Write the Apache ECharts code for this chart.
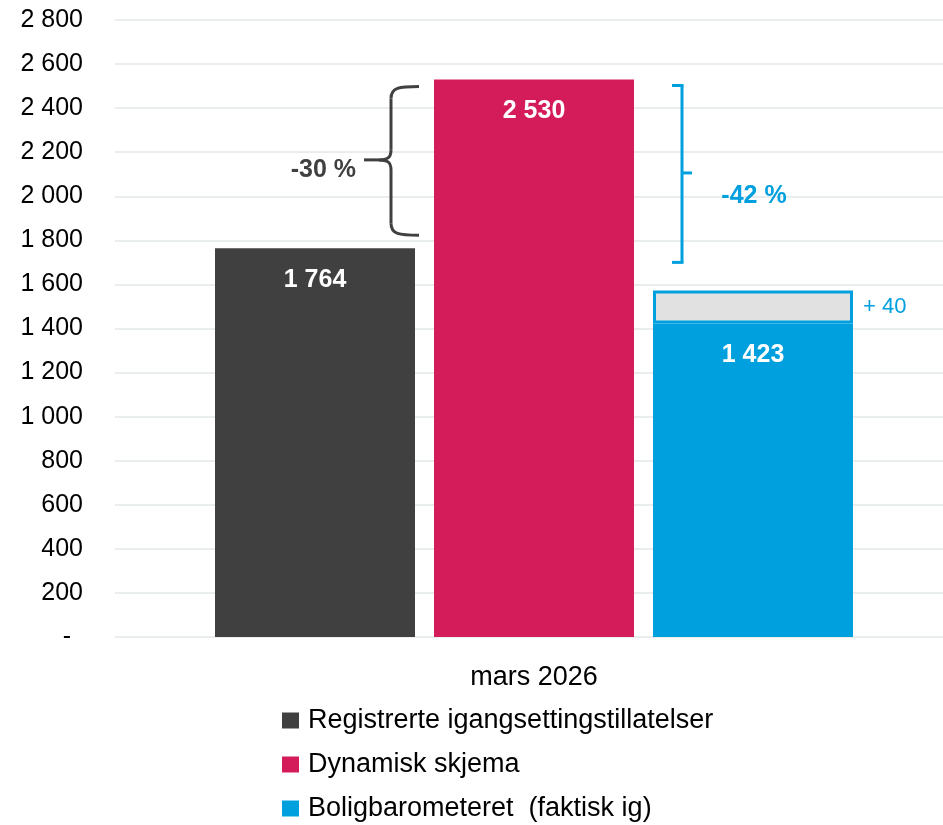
<!DOCTYPE html>
<html>
<head>
<meta charset="utf-8">
<script src="https://cdn.jsdelivr.net/npm/echarts@6/dist/echarts.min.js"></script>
<style>
html,body{margin:0;padding:0;background:#fff;}
#chart{width:943px;height:825px;}
</style>
</head>
<body>
<div id="chart"></div>
<script>
// ---- data ----
const categories = ['mars 2026'];
const seriesNames = ['Registrerte igangsettingstillatelser', 'Dynamisk skjema', 'Boligbarometeret  (faktisk ig)'];
const registrerte = [1764];
const dynamisk = [2530];
const boligbarometeret = [1423];
const tillegg = [150];          // grey top-up block as drawn
const tilleggLabel = ['+ 40'];
const pctLabels = ['-30 %', '-42 %'];
const yTicks = { min: 0, max: 2800, interval: 200 };

const FONT = '"Liberation Sans", Arial, sans-serif';
const C_DARK = '#404040', C_PINK = '#D51C5B', C_BLUE = '#00A0DF', C_GREY = '#E1E1E1';

function fmtNum(v) {
  return String(v).replace(/\B(?=(\d{3})+(?!\d))/g, ' ');
}
function fmtAxis(v) {
  if (v === 0) return '{d|-}';
  return fmtNum(v);
}

const chart = echarts.init(document.getElementById('chart'));
const barLabel = {
  show: true, position: 'insideTop', distance: 19,
  color: '#fff', fontWeight: 'bold', fontSize: 25, fontFamily: FONT,
  formatter: p => fmtNum(p.value)
};
const legendTops = [707, 751, 795];
chart.setOption({
  animation: false,
  grid: [
    { left: 115, right: 0, top: 20, bottom: 188 },
    { left: 125, right: 0, top: 20, bottom: 188 }
  ],
  legend: seriesNames.map((n, i) => ({
    orient: 'vertical', left: 282, top: legendTops[i], padding: 0,
    itemWidth: 17, itemHeight: 16, icon: 'rect',
    textStyle: { fontSize: 27, color: '#000', fontFamily: FONT, padding: [0, 0, 0, 4] },
    data: [n]
  })),
  xAxis: [
    { type: 'category', gridIndex: 0, data: categories, show: false },
    { type: 'category', gridIndex: 1, data: categories,
      axisLine: { show: false }, axisTick: { show: false },
      axisLabel: { fontSize: 27, color: '#000', fontFamily: FONT, margin: 27 } }
  ],
  yAxis: [
    { type: 'value', gridIndex: 0, min: yTicks.min, max: yTicks.max, interval: yTicks.interval,
      axisLine: { show: false }, axisTick: { show: false },
      splitLine: { lineStyle: { color: '#E3E7E7', width: 1.5 } },
      axisLabel: {
        fontSize: 25, color: '#000', fontFamily: FONT, margin: 32,
        formatter: fmtAxis,
        rich: { d: { fontSize: 25, color: '#000', padding: [0, 12, 0, 0] } }
      } },
    { type: 'value', gridIndex: 1, min: yTicks.min, max: yTicks.max, interval: yTicks.interval, show: false,
      splitLine: { show: false } }
  ],
  series: [
    { name: seriesNames[0], type: 'bar', xAxisIndex: 1, yAxisIndex: 1, data: registrerte, barWidth: 200, barGap: '9.5%',
      itemStyle: { color: C_DARK }, label: barLabel },
    { name: seriesNames[1], type: 'bar', xAxisIndex: 1, yAxisIndex: 1, data: dynamisk, barWidth: 200,
      itemStyle: { color: C_PINK }, label: barLabel },
    { name: seriesNames[2], type: 'bar', xAxisIndex: 1, yAxisIndex: 1, stack: 'b', data: boligbarometeret, barWidth: 200,
      itemStyle: { color: C_BLUE }, label: barLabel },
    { name: 'tillegg', type: 'bar', xAxisIndex: 1, yAxisIndex: 1, stack: 'b', data: tillegg, barWidth: 200,
      itemStyle: { color: C_GREY, borderColor: C_BLUE, borderWidth: 3 },
      label: { show: true, position: 'right', distance: 10, color: C_BLUE, fontSize: 22,
               fontFamily: FONT, formatter: () => tilleggLabel[0] } }
  ]
});

function line(x1, y1, x2, y2, color) {
  return { type: 'line', shape: { x1, y1, x2, y2 }, style: { stroke: color, lineWidth: 3, lineCap: 'butt' } };
}
function curve(x1, y1, cx1, cy1, cx2, cy2, x2, y2, color) {
  return { type: 'bezierCurve', shape: { x1, y1, x2, y2, cpx1: cx1, cpy1: cy1, cpx2: cx2, cpy2: cy2 },
           style: { stroke: color, lineWidth: 3, fill: 'none' } };
}

function drawAnnotations() {
  const cx = chart.convertToPixel({ xAxisIndex: 1 }, categories[0]);
  const y = v => chart.convertToPixel({ yAxisIndex: 1 }, v);
  const bw = 200;
  const pinkL = cx - bw / 2, pinkR = cx + bw / 2;
  // grey brace between registrerte and dynamisk (left of pink bar)
  const gTop = y(dynamisk[0]) + 7, gBot = y(registrerte[0]) - 13;
  const gMid = (gTop + gBot) / 2 - 1;
  const bx = pinkL - 43, ex = pinkL - 15, px = pinkL - 70;
  const g = [
    curve(ex, gTop, bx + 8, gTop, bx, gTop + 1, bx, gTop + 12, C_DARK),
    line(bx, gTop + 12, bx, gMid - 10, C_DARK),
    curve(bx, gMid - 10, bx, gMid - 2, bx - 4, gMid, bx - 12, gMid, C_DARK),
    line(bx - 12, gMid, px, gMid, C_DARK),
    curve(bx - 12, gMid, bx - 4, gMid, bx, gMid + 2, bx, gMid + 10, C_DARK),
    line(bx, gMid + 10, bx, gBot - 12, C_DARK),
    curve(bx, gBot - 12, bx, gBot - 1, bx + 8, gBot, ex, gBot, C_DARK)
  ];
  // blue bracket right of pink bar
  const bTop = y(dynamisk[0]) + 6, bBot = y(boligbarometeret[0] + tillegg[0]) - 28;
  const bMid = (bTop + bBot) / 2 - 1;
  const vx = pinkR + 48, lx = pinkR + 38, rx = pinkR + 58;
  g.push(
    line(lx, bTop, vx + 1.5, bTop, C_BLUE),
    line(vx, bTop, vx, bBot, C_BLUE),
    line(lx, bBot, vx + 1.5, bBot, C_BLUE),
    line(vx, bMid, rx, bMid, C_BLUE),
    { type: 'text', x: px - 8, y: gMid + 10, style: { text: pctLabels[0], fill: C_DARK, font: 'bold 25px ' + FONT,
      textAlign: 'right', textVerticalAlign: 'middle' } },
    { type: 'text', x: rx + 62, y: bMid + 23, style: { text: pctLabels[1], fill: C_BLUE, font: 'bold 25px ' + FONT,
      textAlign: 'center', textVerticalAlign: 'middle' } }
  );
  chart.setOption({ graphic: g });
}
drawAnnotations();
</script>
</body>
</html>
